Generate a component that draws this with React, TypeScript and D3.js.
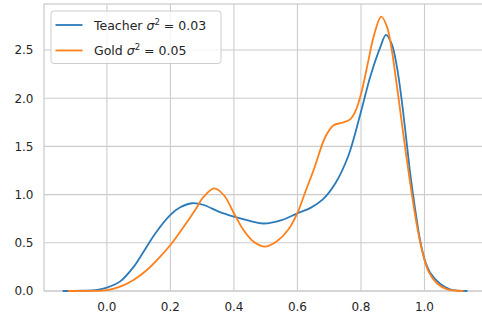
import React from "react";
import * as d3 from "d3";

const W = 482;
const H = 315;

const teacherX = [-0.137, -0.08, -0.03, 0.0, 0.042, 0.084, 0.116, 0.153, 0.2, 0.231, 0.268, 0.305, 0.352, 0.4, 0.45, 0.493, 0.55, 0.6, 0.64, 0.68, 0.72, 0.76, 0.8, 0.829, 0.861, 0.879, 0.897, 0.913, 0.929, 0.943, 0.955, 0.971, 0.986, 1.002, 1.018, 1.049, 1.08, 1.133];
const teacherY = [0, 0.003, 0.012, 0.035, 0.10, 0.25, 0.41, 0.60, 0.79, 0.868, 0.91, 0.892, 0.823, 0.771, 0.728, 0.70, 0.735, 0.806, 0.86, 0.95, 1.12, 1.40, 1.86, 2.22, 2.53, 2.656, 2.56, 2.33, 1.96, 1.566, 1.22, 0.84, 0.53, 0.31, 0.19, 0.075, 0.018, 0];

const goldX = [-0.12, -0.06, 0.0, 0.042, 0.084, 0.126, 0.163, 0.2, 0.242, 0.278, 0.305, 0.338, 0.368, 0.4, 0.43, 0.462, 0.499, 0.535, 0.572, 0.6, 0.625, 0.651, 0.688, 0.714, 0.74, 0.766, 0.782, 0.8, 0.824, 0.84, 0.864, 0.882, 0.897, 0.913, 0.928, 0.942, 0.955, 0.966, 0.976, 0.992, 1.013, 1.039, 1.07, 1.12];
const goldY = [0, 0.001, 0.01, 0.045, 0.114, 0.218, 0.339, 0.477, 0.667, 0.84, 0.978, 1.065, 0.996, 0.806, 0.633, 0.511, 0.46, 0.515, 0.64, 0.81, 1.03, 1.255, 1.60, 1.72, 1.745, 1.78, 1.86, 2.04, 2.40, 2.64, 2.845, 2.74, 2.50, 2.13, 1.76, 1.42, 1.117, 0.88, 0.68, 0.425, 0.20, 0.08, 0.02, 0];

const xTicks = [0.0, 0.2, 0.4, 0.6, 0.8, 1.0];
const yTicks = [0.0, 0.5, 1.0, 1.5, 2.0, 2.5];

const seriesNames = ["Teacher", "Gold"];
const seriesVar = ["0.03", "0.05"];
const seriesColors = ["#2b7bba", "#ff801a"];

const xScale = d3.scaleLinear().domain([-0.198, 1.2]).range([44, 488]);
const yScale = d3.scaleLinear().domain([0, 2.977]).range([291, 4]);

const GRID = "#cccccc";
const TEXT = "#262626";
const FONT = "'DejaVu Sans', sans-serif";

export default function App() {
  const line = d3
    .line<[number, number]>()
    .x((d) => xScale(d[0]))
    .y((d) => yScale(d[1]))
    .curve(d3.curveCatmullRom.alpha(0.5));

  const teacher = teacherX.map((x, i) => [x, teacherY[i]] as [number, number]);
  const gold = goldX.map((x, i) => [x, goldY[i]] as [number, number]);
  const series = [teacher, gold];

  const [x0, x1] = xScale.range();
  const [y0, y1] = yScale.range();

  return (
    <svg
      width={W}
      height={H}
      style={{ position: "absolute", left: 0, top: 0, background: "#fff" }}
      fontFamily={FONT}
    >
      <rect x={0} y={0} width={W} height={H} fill="#fff" />
      {xTicks.map((t) => (
        <line key={"gx" + t} x1={xScale(t)} x2={xScale(t)} y1={y1} y2={y0} stroke={GRID} strokeWidth={1.1} />
      ))}
      {yTicks.map((t) => (
        <line key={"gy" + t} x1={x0} x2={x1} y1={yScale(t)} y2={yScale(t)} stroke={GRID} strokeWidth={1.1} />
      ))}
      <rect x={x0} y={y1} width={x1 - x0} height={y0 - y1} fill="none" stroke={GRID} strokeWidth={1.25} />
      {series.map((s, i) => (
        <path key={"s" + i} d={line(s) || ""} fill="none" stroke={seriesColors[i]} strokeWidth={1.8} strokeLinejoin="round" strokeLinecap="round" />
      ))}
      {xTicks.map((t) => (
        <text key={"tx" + t} x={xScale(t)} y={310.5} textAnchor="middle" fontSize={12} fill={TEXT}>
          {t.toFixed(1)}
        </text>
      ))}
      {yTicks.map((t) => (
        <text key={"ty" + t} x={33.5} y={yScale(t)} dy="0.36em" textAnchor="end" fontSize={12} fill={TEXT}>
          {t.toFixed(1)}
        </text>
      ))}
      <rect x={51} y={11} width={170} height={52.5} rx={3} fill="#fff" fillOpacity={0.8} stroke={GRID} strokeWidth={1} />
      {seriesNames.map((n, i) => {
        const ly = 25 + i * 25.5;
        return (
          <g key={"lg" + i}>
            <line x1={55.5} x2={82.5} y1={ly} y2={ly} stroke={seriesColors[i]} strokeWidth={1.8} />
            <text x={94} y={ly + 4.5} fontSize={12.5} fill={TEXT}>
              {n + " "}
              <tspan fontStyle="italic">σ</tspan>
              <tspan fontSize={8.5} dy={-5}>2</tspan>
              <tspan dy={5}>{" = " + seriesVar[i]}</tspan>
            </text>
          </g>
        );
      })}
    </svg>
  );
}
